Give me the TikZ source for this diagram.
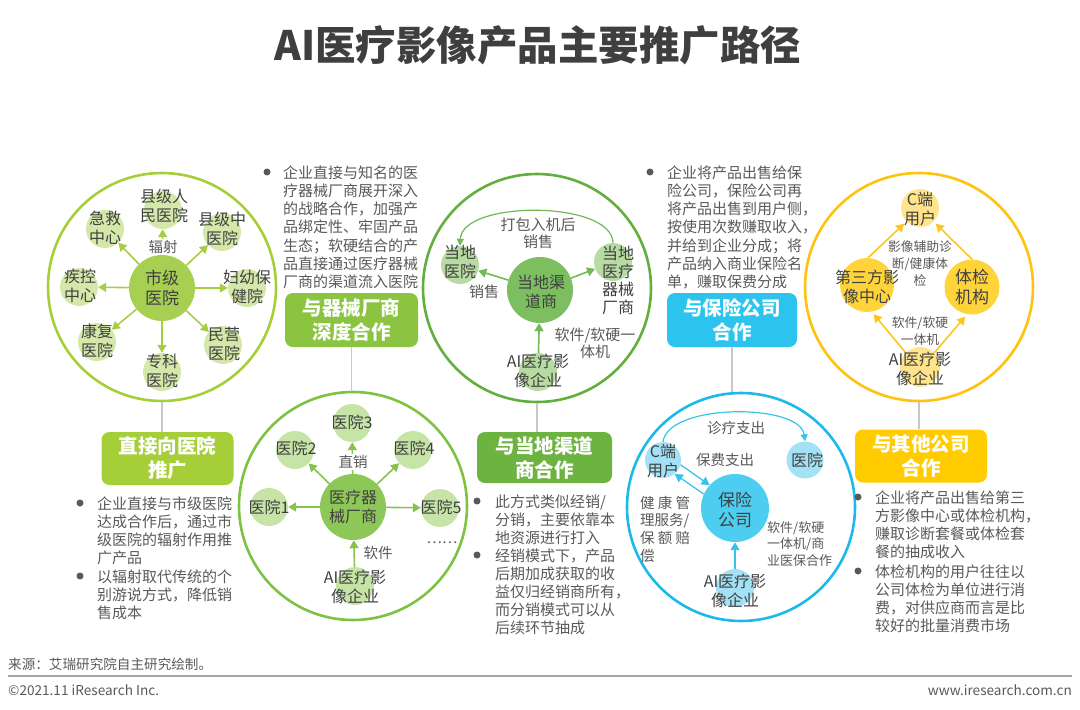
\documentclass[tikz,border=0pt]{standalone}
\usepackage{fontspec}
\setmainfont{Noto Sans CJK SC}
\usetikzlibrary{arrows.meta}
\newcommand{\myfs}[2]{\fontsize{#1}{#2}\selectfont}
\definecolor{txtgray}{HTML}{595959}
\definecolor{txtdark}{HTML}{404040}
\definecolor{titlegray}{HTML}{3F3F3F}
\definecolor{linegray}{HTML}{C8C8C8}
\definecolor{footgray}{HTML}{A6A6A6}
\definecolor{pAring}{HTML}{A6CE39}
\definecolor{pAhub}{HTML}{A7CF52}
\definecolor{pAsat}{HTML}{D4E8AA}
\definecolor{pAarr}{HTML}{A6CE45}
\definecolor{pAbox}{HTML}{A6CE39}
\definecolor{pBring}{HTML}{7DC242}
\definecolor{pBhub}{HTML}{8DC757}
\definecolor{pBsat}{HTML}{C6E4A6}
\definecolor{pBarr}{HTML}{86C34C}
\definecolor{pBbox}{HTML}{8BC440}
\definecolor{pCring}{HTML}{62AE3E}
\definecolor{pChub}{HTML}{7CBE60}
\definecolor{pCsat}{HTML}{B8DBA3}
\definecolor{pCarr}{HTML}{70B954}
\definecolor{pCbox}{HTML}{6DB340}
\definecolor{pDring}{HTML}{1DB9EA}
\definecolor{pDhub}{HTML}{4DCDF0}
\definecolor{pDsat}{HTML}{A3E2F6}
\definecolor{pDarr}{HTML}{38C3EC}
\definecolor{pDbox}{HTML}{2CC4EE}
\definecolor{pEring}{HTML}{FFC20E}
\definecolor{pEmid}{HTML}{FFD43B}
\definecolor{pEsat}{HTML}{FFE48C}
\definecolor{pEarr}{HTML}{FFC61A}
\definecolor{pEbox}{HTML}{FFCC00}
\tikzset{
 ring/.style={circle, draw=#1, line width=2.6pt, minimum size=228pt, inner sep=0pt},
 hub/.style={circle, fill=#1, minimum size=66pt, inner sep=0pt},
 sat/.style={circle, fill=#1, minimum size=38pt, inner sep=0pt},
 midc/.style={circle, fill=#1, minimum size=54pt, inner sep=0pt},
 ntxt/.style={text=txtdark, font=\myfs{16}{18.5}, align=center, inner sep=0pt},
 htxt/.style={text=txtdark, font=\myfs{17}{19.5}, align=center, inner sep=0pt},
 lbl/.style={text=txtgray, font=\myfs{14.5}{17}, align=center, inner sep=0pt},
 slbl/.style={text=txtgray, font=\myfs{12.8}{17}, align=center, inner sep=0pt},
 body/.style={text=txtgray, font=\myfs{15}{18.2}, align=left, anchor=north west, inner sep=0pt},
 hbox/.style={rounded corners=8pt, fill=#1, text=white, font=\bfseries\myfs{19.5}{24}, align=center, minimum width=132pt, minimum height=53pt, inner sep=0pt},
 arr/.style={draw=#1, line width=1.6pt, -{Triangle[length=8pt,width=9pt]}},
 thinarr/.style={draw=#1, line width=1.2pt, -{Triangle[length=7pt,width=7pt]}},
 conn/.style={draw=linegray, line width=1.5pt},
 bul/.style={circle, fill=txtgray, minimum size=7pt, inner sep=0pt},
 foot/.style={text=txtgray, font=\myfs{13.6}{15}, inner sep=0pt},
}
\begin{document}
\begin{tikzpicture}[x=1pt,y=-1pt]
\useasboundingbox (0,0) rectangle (1080,710);
% title
\node[font=\bfseries\myfs{40.5}{42}, text=titlegray, inner sep=0pt] (title) at (538,45) {AI医疗影像产品主要推广路径};

% ---------- panel 1 ----------
\node[ring=pAring] (r1) at (162,287) {};
\node[hub=pAhub] (h1) at (162,288) {};
\node[sat=pAsat] (s1a) at (163,210) {};
\node[sat=pAsat] (s1b) at (222,232) {};
\node[sat=pAsat] (s1c) at (247,288) {};
\node[sat=pAsat] (s1d) at (223,345) {};
\node[sat=pAsat] (s1e) at (162,372) {};
\node[sat=pAsat] (s1f) at (97,342) {};
\node[sat=pAsat] (s1g) at (79,287) {};
\node[sat=pAsat] (s1h) at (105,229) {};
\foreach \s in {s1a,s1b,s1c,s1d,s1e,s1f,s1g,s1h} \draw[arr=pAarr] (h1) -- (\s);
\node[htxt] (h1t) at (162,288) {市级\\医院};
\node[ntxt] (s1at) at (164,206) {县级人\\民医院};
\node[ntxt] (s1bt) at (222,229) {县级中\\医院};
\node[ntxt] (s1ct) at (247,287) {妇幼保\\健院};
\node[ntxt] (s1dt) at (224,344) {民营\\医院};
\node[ntxt] (s1et) at (162,371) {专科\\医院};
\node[ntxt] (s1ft) at (97,341) {康复\\医院};
\node[ntxt] (s1gt) at (80,286) {疾控\\中心};
\node[ntxt] (s1ht) at (105,228) {急救\\中心};
\node[lbl, fill=white, inner sep=1pt] (l1a) at (163,247) {辐射};
\node[hbox=pAbox] (b1) at (167.5,458.5) {直接向医院\\推广};
\draw[conn] (r1.south) -- (r1.south |- b1.north);
\node[bul] (d1a) at (80,503) {};
\node[body] (t1a) at (97,496.3) {企业直接与市级医院\\达成合作后，通过市\\级医院的辐射作用推\\广产品};
\node[bul] (d1b) at (80,576) {};
\node[body] (t1b) at (97,569.3) {以辐射取代传统的个\\别游说方式，降低销\\售成本};

% ---------- panel 2 ----------
\node[bul] (d2) at (267,172) {};
\node[body] (t2) at (283,165.3) {企业直接与知名的医\\疗器械厂商展开深入\\的战略合作，加强产\\品绑定性、牢固产品\\生态；软硬结合的产\\品直接通过医疗器械\\厂商的渠道流入医院};
\node[hbox=pBbox, minimum width=133pt, minimum height=54pt] (b2) at (351.5,320) {与器械厂商\\深度合作};
\node[ring=pBring] (r2) at (353,506) {};
\draw[conn] (b2.south) -- (b2.south |- r2.north);
\node[hub=pBhub] (h2) at (353,507) {};
\node[sat=pBsat] (s2a) at (269,507) {};
\node[sat=pBsat] (s2b) at (295,450) {};
\node[sat=pBsat] (s2c) at (352,423) {};
\node[sat=pBsat] (s2d) at (413,450) {};
\node[sat=pBsat] (s2e) at (440,508) {};
\node[sat=pBsat] (s2f) at (355,586) {};
\foreach \s in {s2a,s2b,s2c,s2d,s2e} \draw[arr=pBarr] (h2) -- (\s);
\draw[arr=pBarr] (s2f) -- (h2);
\node[htxt, font=\myfs{16}{19.5}] (h2t) at (353,507) {医疗器\\械厂商};
\node[ntxt] (s2at) at (269,507) {医院1};
\node[ntxt] (s2bt) at (296,448) {医院2};
\node[ntxt] (s2ct) at (352,422) {医院3};
\node[ntxt] (s2dt) at (414,448) {医院4};
\node[ntxt] (s2et) at (441,507) {医院5};
\node[ntxt] (s2ft) at (355,587) {AI医疗影\\像企业};
\node[lbl, fill=white, inner sep=1pt] (l2a) at (353,462) {直销};
\node[lbl] (l2b) at (378,553) {软件};
\node[lbl] (l2c) at (442,543) {……};

% ---------- panel 3 ----------
\node[ring=pCring] (r3) at (537,288) {};
\node[hub=pChub] (h3) at (540,290) {};
\node[sat=pCsat] (s3a) at (460,265) {};
\node[sat=pCsat] (s3b) at (613,262) {};
\node[sat=pCsat] (s3c) at (538,372) {};
\draw[arr=pCarr] (h3) -- (s3a);
\draw[arr=pCarr] (h3) -- (s3b);
\draw[arr=pCarr] (s3c) -- (h3);
\draw[thinarr=pCarr] (s3b.north) .. controls (612,200) and (462,200) .. (s3a.north);
\node[htxt, font=\myfs{16}{19.5}] (h3t) at (541,292) {当地渠\\道商};
\node[ntxt] (s3at) at (460,262) {当地\\医院};
\node[ntxt, font=\myfs{16}{18}] (s3bt) at (618,280) {当地\\医疗\\器械\\厂商};
\node[ntxt] (s3ct) at (538,371) {AI医疗影\\像企业};
\node[lbl, font=\myfs{15}{17}] (l3a) at (538,233.5) {打包入机后\\销售};
\node[lbl, font=\myfs{15}{17}] (l3b) at (484,292) {销售};
\node[lbl, font=\myfs{15}{17}] (l3c) at (595,343.5) {软件/软硬一\\体机};
\node[hbox=pCbox, minimum width=135pt, minimum height=51pt] (b3) at (544.5,457.5) {与当地渠道\\商合作};
\draw[conn] (r3.south) -- (r3.south |- b3.north);
\node[bul] (d3a) at (477,501) {};
\node[body] (t3a) at (495,494.3) {此方式类似经销/\\分销，主要依靠本\\地资源进行打入};
\node[bul] (d3b) at (477,555) {};
\node[body] (t3b) at (495,548.3) {经销模式下，产品\\后期加成获取的收\\益仅归经销商所有，\\而分销模式可以从\\后续环节抽成};

% ---------- panel 4 ----------
\node[bul] (d4) at (650,172) {};
\node[body] (t4) at (667,165.3) {企业将产品出售给保\\险公司，保险公司再\\将产品出售到用户侧，\\按使用次数赚取收入，\\并给到企业分成；将\\产品纳入商业保险名\\单，赚取保费分成};
\node[hbox=pDbox, minimum width=130pt, minimum height=54pt] (b4) at (732,320) {与保险公司\\合作};
\node[ring=pDring] (r4) at (741,507) {};
\draw[conn] (b4.south) -- (b4.south |- r4.north);
\node[hub=pDhub, minimum size=68pt] (h4) at (735,508) {};
\node[sat=pDsat, minimum size=36pt] (s4a) at (663,460) {};
\node[sat=pDsat, minimum size=37pt] (s4b) at (805,460) {};
\node[sat=pDsat] (s4c) at (735,588) {};
\draw[thinarr=pDarr] (s4a.north) .. controls (668,403) and (800,403) .. (s4b.north);
\draw[arr=pDarr, line width=1.3pt] (s4a.-15) -- (h4.138);
\draw[arr=pDarr, line width=1.3pt] (h4.156) -- (s4a.-50);
\draw[arr=pDarr] (s4c) -- (h4);
\node[htxt, font=\myfs{17}{20}] (h4t) at (735,510) {保险\\公司};
\node[ntxt] (s4at) at (663,461) {C端\\用户};
\node[ntxt] (s4bt) at (807,460) {医院};
\node[ntxt] (s4ct) at (735,591) {AI医疗影\\像企业};
\node[lbl] (l4a) at (736,428) {诊疗支出};
\node[lbl] (l4b) at (725,460) {保费支出};
\node[lbl, align=left, anchor=north west, font=\myfs{14.5}{17.7}] (l4c) at (640,495.5) {\makebox[50pt]{健\hfill 康\hfill 管}\\理服务/\\\makebox[50pt]{保\hfill 额\hfill 赔}\\偿};
\node[lbl, align=left, anchor=north west, font=\myfs{13}{16.8}] (l4d) at (767,521) {软件/软硬\\一体机/商\\业医保合作};

% ---------- panel 5 ----------
\node[ring=pEring] (r5) at (919,287) {};
\node[sat=pEsat] (s5a) at (920,208) {};
\node[midc=pEmid] (s5b) at (867,285) {};
\node[midc=pEmid, minimum size=55pt] (s5c) at (972,287) {};
\node[sat=pEsat, minimum size=40pt] (s5d) at (920,367) {};
\draw[arr=pEarr, shorten >=3pt] (s5b.88) -- (s5a.-135);
\draw[arr=pEarr, shorten >=3pt] (s5c.90) -- (s5a.-45);
\draw[arr=pEarr, shorten >=3pt] (s5d.135) -- (s5b.-80);
\draw[arr=pEarr, shorten >=3pt] (s5d.45) -- (s5c.-100);
\node[ntxt] (s5at) at (920,209) {C端\\用户};
\node[ntxt] (s5bt) at (867,287) {第三方影\\像中心};
\node[ntxt, font=\myfs{17}{19.5}] (s5ct) at (972,287) {体检\\机构};
\node[ntxt] (s5dt) at (920,369) {AI医疗影\\像企业};
\node[slbl] (l5a) at (920,264) {影像辅助诊\\断/健康体\\检};
\node[slbl] (l5b) at (920,331.5) {软件/软硬\\一体机};
\node[hbox=pEbox] (b5) at (921,456) {与其他公司\\合作};
\draw[conn] (r5.south) -- (r5.south |- b5.north);
\node[bul] (d5a) at (858,497) {};
\node[body] (t5a) at (875,490.3) {企业将产品出售给第三\\方影像中心或体检机构，\\赚取诊断套餐或体检套\\餐的抽成收入};
\node[bul] (d5b) at (858,571) {};
\node[body] (t5b) at (875,564.3) {体检机构的用户往往以\\公司体检为单位进行消\\费，对供应商而言是比\\较好的批量消费市场};

% ---------- footer ----------
\node[foot, anchor=west] (src) at (8,664) {来源：艾瑞研究院自主研究绘制。};
\coordinate (fl) at (8,676);
\coordinate (fr) at (1072,676);
\draw[draw=footgray, line width=1.2pt] (fl) -- (fr);
\node[foot, anchor=west] (cpy) at (8,690) {©2021.11 iResearch Inc.};
\node[foot, anchor=east] (web) at (1072,690) {www.iresearch.com.cn};
\end{tikzpicture}
\end{document}
